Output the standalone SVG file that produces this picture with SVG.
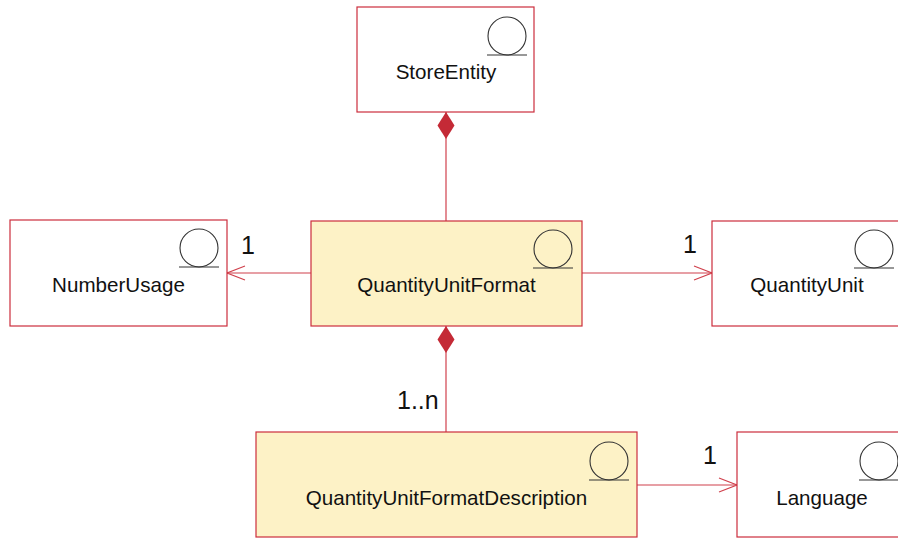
<svg xmlns="http://www.w3.org/2000/svg" width="898" height="538" viewBox="0 0 898 538">
<defs>
<style>
.box{stroke:#cc2e3c;stroke-width:1.2}
.plain{fill:#ffffff}
.hl{fill:#fdf2c6}
.icon{fill:none;stroke:#333;stroke-width:1.1}
.name{font-family:"Liberation Sans",Arial,sans-serif;font-size:20.6px;fill:#111;text-anchor:middle}
.mult{font-family:"Liberation Sans",Arial,sans-serif;font-size:25px;fill:#111}
.conn{stroke:#d0404c;stroke-width:1.2;fill:none}
</style>
<marker id="open" markerUnits="userSpaceOnUse" markerWidth="20" markerHeight="18" viewBox="-19 -9 20 18" refX="0" refY="0" orient="auto" overflow="visible">
<path d="M-18,-7 L0,0 L-18,7" fill="none" stroke="#d0404c" stroke-width="1.2"/>
</marker>
<marker id="diamond" markerUnits="userSpaceOnUse" markerWidth="28" markerHeight="18" viewBox="0 -9 28 18" refX="0" refY="0" orient="auto" overflow="visible">
<path d="M0,0 L13.5,-8.5 L27,0 L13.5,8.5 Z" fill="#c42a36"/>
</marker>
</defs>
<rect width="898" height="538" fill="#ffffff"/>
<g id="connectors">
<line class="conn" x1="446" y1="112" x2="446" y2="221" marker-start="url(#diamond)"/>
<line class="conn" x1="446" y1="326" x2="446" y2="432" marker-start="url(#diamond)"/>
<line class="conn" x1="311" y1="273" x2="227" y2="273" marker-end="url(#open)"/>
<line class="conn" x1="582" y1="273" x2="712" y2="273" marker-end="url(#open)"/>
<line class="conn" x1="637" y1="485" x2="737" y2="485" marker-end="url(#open)"/>
<text class="mult" x="248" y="254" text-anchor="middle">1</text>
<text class="mult" x="690" y="253" text-anchor="middle">1</text>
<text class="mult" x="710" y="464" text-anchor="middle">1</text>
<text class="mult" x="397" y="409">1..n</text>
</g>
<g id="StoreEntity">
<rect class="box plain" x="357" y="7" width="177" height="105"/>
<circle class="icon" cx="507" cy="36" r="19"/>
<line class="icon" x1="487" y1="55" x2="527" y2="55"/>
<text class="name" x="446" y="79">StoreEntity</text>
</g>
<g id="NumberUsage">
<rect class="box plain" x="10" y="220" width="217" height="106"/>
<circle class="icon" cx="199" cy="248" r="19"/>
<line class="icon" x1="179" y1="267" x2="219" y2="267"/>
<text class="name" x="118.5" y="292">NumberUsage</text>
</g>
<g id="QuantityUnitFormat">
<rect class="box hl" x="311" y="221" width="271" height="105"/>
<circle class="icon" cx="553" cy="249" r="19"/>
<line class="icon" x1="533" y1="268" x2="573" y2="268"/>
<text class="name" x="446.5" y="292">QuantityUnitFormat</text>
</g>
<g id="QuantityUnit">
<rect class="box plain" x="712" y="221" width="190" height="105"/>
<circle class="icon" cx="874" cy="249" r="19"/>
<line class="icon" x1="854" y1="268" x2="894" y2="268"/>
<text class="name" x="807" y="292">QuantityUnit</text>
</g>
<g id="QuantityUnitFormatDescription">
<rect class="box hl" x="256" y="432" width="381" height="105"/>
<circle class="icon" cx="609" cy="461" r="19"/>
<line class="icon" x1="589" y1="480" x2="629" y2="480"/>
<text class="name" x="446.5" y="505">QuantityUnitFormatDescription</text>
</g>
<g id="Language">
<rect class="box plain" x="737" y="432" width="170" height="105"/>
<circle class="icon" cx="879" cy="461" r="19"/>
<line class="icon" x1="859" y1="480" x2="899" y2="480"/>
<text class="name" x="822" y="505">Language</text>
</g>
</svg>
